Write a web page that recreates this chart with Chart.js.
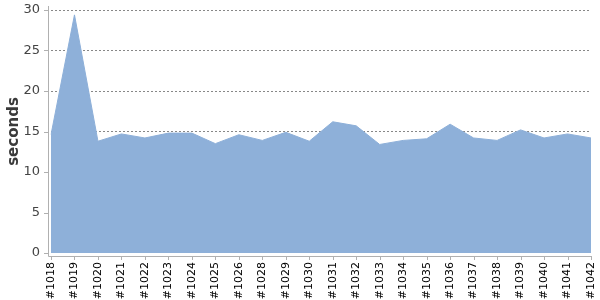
<!DOCTYPE html>
<html>
<head>
<meta charset="utf-8">
<script src="https://cdn.jsdelivr.net/npm/chart.js@4/dist/chart.umd.min.js"></script>
<style>
  html, body { margin: 0; padding: 0; background: #fff; }
  #wrap { width: 600px; height: 300px; }
</style>
</head>
<body>
<div id="wrap"><canvas id="times"></canvas></div>
<script>
const builds = ['#1018', '#1019', '#1020', '#1021', '#1022', '#1023', '#1024', '#1025',
    '#1026', '#1028', '#1029', '#1030', '#1031', '#1032', '#1033', '#1034', '#1035',
    '#1036', '#1037', '#1038', '#1039', '#1040', '#1041', '#1042'];
const seconds = [14.6, 29.4, 13.8, 14.7, 14.2, 14.8, 14.8, 13.5,
    14.6, 13.9, 14.9, 13.8, 16.2, 15.7, 13.4, 13.9, 14.1,
    15.9, 14.2, 13.9, 15.2, 14.2, 14.7, 14.2];
const yTicks = [0, 5, 10, 15, 20, 25, 30];

// axis lines sit a few px outside the plot area, like the original
const axisLines = {
    id: 'axisLines',
    afterDraw(chart) {
        const ctx = chart.ctx, a = chart.chartArea;
        const x0 = a.left - 3, y0 = a.bottom + 3;
        ctx.save();
        ctx.strokeStyle = '#b0b0b0';
        ctx.lineWidth = 1;
        ctx.beginPath();
        ctx.moveTo(x0 + 0.5, a.top - 4);
        ctx.lineTo(x0 + 0.5, y0 + 0.5);
        ctx.lineTo(a.right + 0.5, y0 + 0.5);
        const xs = chart.scales.x;
        builds.forEach((b, i) => {
            const px = Math.round(xs.getPixelForValue(i)) + 0.5;
            ctx.moveTo(px, y0);
            ctx.lineTo(px, y0 + 4);
        });
        const ys = chart.scales.y;
        yTicks.forEach(v => {
            const py = Math.round(ys.getPixelForValue(v)) + 0.5;
            ctx.moveTo(x0 - 4, py);
            ctx.lineTo(x0, py);
        });
        ctx.stroke();
        ctx.restore();
    }
};

new Chart('times', {
    type: 'line',
    data: {
        labels: builds,
        datasets: [{
            data: seconds,
            fill: 'origin',
            backgroundColor: '#8eb0d9',
            borderColor: '#8eb0d9',
            borderWidth: 1,
            pointRadius: 0,
            tension: 0
        }]
    },
    options: {
        responsive: true,
        maintainAspectRatio: false,
        animation: false,
        layout: { padding: { top: 10, right: 9, left: 0, bottom: 0 } },
        plugins: { legend: { display: false }, tooltip: { enabled: false } },
        scales: {
            x: {
                offset: false,
                grid: { display: false, drawTicks: false },
                border: { display: false },
                ticks: {
                    autoSkip: false, minRotation: 90, maxRotation: 90, padding: 9,
                    color: '#000', font: { family: 'DejaVu Sans', size: 11 }
                },
                afterFit(scale) {
                    scale.height = 47;
                    scale.paddingLeft = 0;
                    scale.paddingRight = 0;
                }
            },
            y: {
                min: 0, max: 30,
                z: 1,
                afterBuildTicks(scale) { scale.ticks = yTicks.map(v => ({ value: v })); },
                grid: {
                    drawTicks: false,
                    color: ctx => ctx.tick && ctx.tick.value === 0 ? 'rgba(0,0,0,0)' : '#888'
                },
                border: { display: false, dash: [2, 2] },
                ticks: {
                    padding: 11, color: '#444',
                    font: { family: 'DejaVu Sans', size: 13 }
                },
                title: {
                    display: true, text: 'seconds', color: '#3a3a3a', padding: { top: 5, bottom: 0 },
                    font: { family: 'DejaVu Sans', size: 15, weight: 'bold' }
                },
                afterFit(scale) {
                    scale.width = 51;
                    scale.paddingTop = 0;
                    scale.paddingBottom = 0;
                }
            }
        }
    },
    plugins: [axisLines]
});
</script>
</body>
</html>
